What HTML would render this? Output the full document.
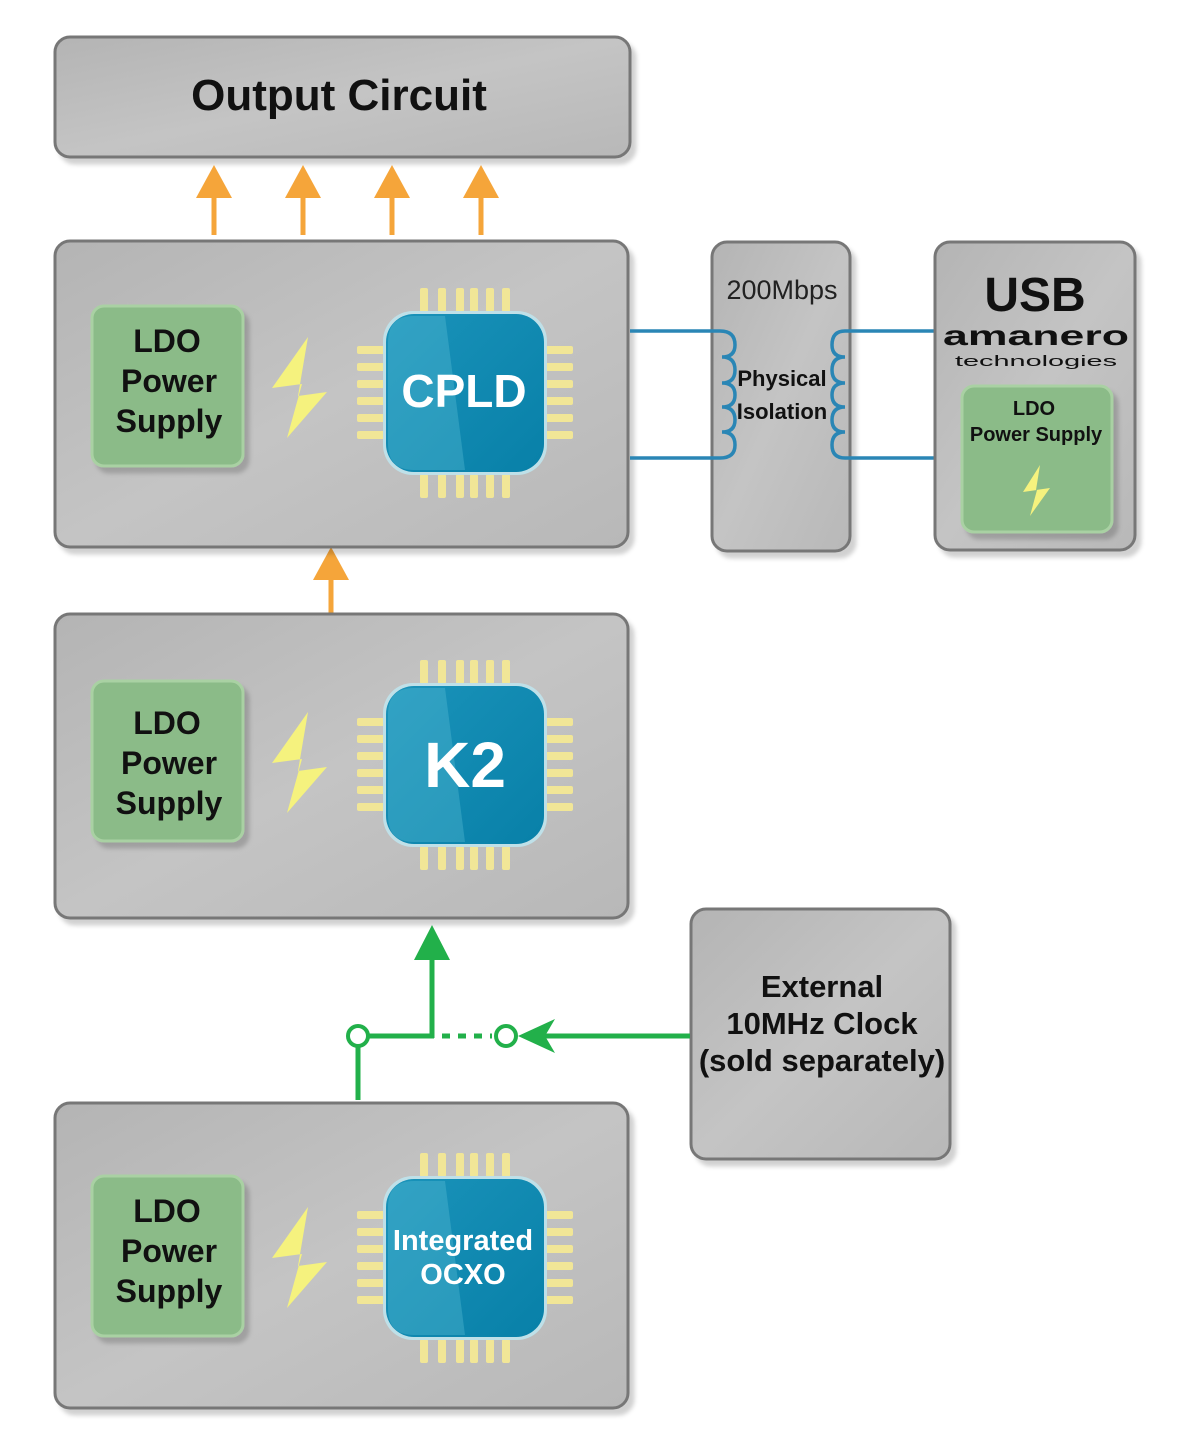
<!DOCTYPE html>
<html><head><meta charset="utf-8"><style>
html,body{margin:0;padding:0;background:#fff;width:1200px;height:1450px;overflow:hidden}
text{font-family:"Liberation Sans","DejaVu Sans",sans-serif}
</style></head><body>
<svg width="1200" height="1450" viewBox="0 0 1200 1450" xmlns="http://www.w3.org/2000/svg">
<defs>
<linearGradient id="gb" x1="0" y1="0" x2="1" y2="1">
<stop offset="0" stop-color="#b4b4b4"/><stop offset="0.5" stop-color="#c4c4c4"/><stop offset="1" stop-color="#b8b8b8"/></linearGradient>
<linearGradient id="chip" x1="0" y1="0" x2="1" y2="1">
<stop offset="0" stop-color="#1a93ba"/><stop offset="1" stop-color="#0880a8"/></linearGradient>
<filter id="sh" x="-5%" y="-5%" width="115%" height="115%"><feDropShadow dx="5" dy="6" stdDeviation="2" flood-color="#000" flood-opacity="0.18"/></filter>
<g id="pins" fill="#f1e697">
<rect x="420" y="288" width="8" height="24" rx="2"/><rect x="438" y="288" width="8" height="24" rx="2"/><rect x="456" y="288" width="8" height="24" rx="2"/><rect x="470" y="288" width="8" height="24" rx="2"/><rect x="486" y="288" width="8" height="24" rx="2"/><rect x="502" y="288" width="8" height="24" rx="2"/>
<rect x="420" y="474" width="8" height="24" rx="2"/><rect x="438" y="474" width="8" height="24" rx="2"/><rect x="456" y="474" width="8" height="24" rx="2"/><rect x="470" y="474" width="8" height="24" rx="2"/><rect x="486" y="474" width="8" height="24" rx="2"/><rect x="502" y="474" width="8" height="24" rx="2"/>
<rect x="357" y="346" width="28" height="8" rx="2"/><rect x="357" y="363" width="28" height="8" rx="2"/><rect x="357" y="380" width="28" height="8" rx="2"/><rect x="357" y="397" width="28" height="8" rx="2"/><rect x="357" y="414" width="28" height="8" rx="2"/><rect x="357" y="431" width="28" height="8" rx="2"/>
<rect x="545" y="346" width="28" height="8" rx="2"/><rect x="545" y="363" width="28" height="8" rx="2"/><rect x="545" y="380" width="28" height="8" rx="2"/><rect x="545" y="397" width="28" height="8" rx="2"/><rect x="545" y="414" width="28" height="8" rx="2"/><rect x="545" y="431" width="28" height="8" rx="2"/>
<rect x="383" y="311" width="164" height="164" rx="30" fill="#bfe0e8"/>
<rect x="386" y="314" width="158" height="158" rx="28" fill="url(#chip)"/>
<path d="M414,316 L445,316 L465,470 L414,470 Q388,470 388,444 L388,342 Q388,316 414,316Z" fill="#5fc0d8" opacity="0.35"/>
</g>
<g id="ldo">
<rect x="92" y="306" width="151" height="160" rx="12" fill="#8bbb88" stroke="#a9d1a3" stroke-width="3" filter="url(#sh)"/>
<polygon points="308,337 272,388 302,384 287,438 327,392 298,396" fill="#f5f27e"/>
</g>
</defs>

<rect x="55" y="37" width="575" height="120" rx="15" fill="url(#gb)" stroke="#777" stroke-width="3" filter="url(#sh)"/>
<text x="339" y="110" font-size="44" font-weight="bold" text-anchor="middle" fill="#111">Output Circuit</text>

<g stroke="#f5a53a" stroke-width="5" fill="#f5a53a">
<line x1="214" y1="235" x2="214" y2="190"/><polygon points="196,198 214,165 232,198" stroke="none"/>
<line x1="303" y1="235" x2="303" y2="190"/><polygon points="285,198 303,165 321,198" stroke="none"/>
<line x1="392" y1="235" x2="392" y2="190"/><polygon points="374,198 392,165 410,198" stroke="none"/>
<line x1="481" y1="235" x2="481" y2="190"/><polygon points="463,198 481,165 499,198" stroke="none"/>
<line x1="331" y1="613" x2="331" y2="570"/><polygon points="313,580 331,547 349,580" stroke="none"/>
</g>

<rect x="55" y="241" width="573" height="306" rx="15" fill="url(#gb)" stroke="#777" stroke-width="3" filter="url(#sh)"/>
<use href="#ldo"/>
<use href="#pins"/>
<text x="167" y="352" font-size="32" font-weight="bold" text-anchor="middle" fill="#111">LDO</text>
<text x="169" y="392" font-size="32" font-weight="bold" text-anchor="middle" fill="#111">Power</text>
<text x="169" y="432" font-size="32" font-weight="bold" text-anchor="middle" fill="#111">Supply</text>
<text x="464" y="407" font-size="46" font-weight="bold" text-anchor="middle" fill="#fff">CPLD</text>

<rect x="55" y="614" width="573" height="304" rx="15" fill="url(#gb)" stroke="#777" stroke-width="3" filter="url(#sh)"/>
<g transform="translate(0,375)"><use href="#ldo"/></g>
<g transform="translate(0,372)"><use href="#pins"/></g>
<text x="167" y="734" font-size="32" font-weight="bold" text-anchor="middle" fill="#111">LDO</text>
<text x="169" y="774" font-size="32" font-weight="bold" text-anchor="middle" fill="#111">Power</text>
<text x="169" y="814" font-size="32" font-weight="bold" text-anchor="middle" fill="#111">Supply</text>
<text x="465" y="787" font-size="64" font-weight="bold" text-anchor="middle" fill="#fff">K2</text>

<rect x="55" y="1103" width="573" height="305" rx="15" fill="url(#gb)" stroke="#777" stroke-width="3" filter="url(#sh)"/>
<g transform="translate(0,870)"><use href="#ldo"/></g>
<g transform="translate(0,865)"><use href="#pins"/></g>
<text x="167" y="1222" font-size="32" font-weight="bold" text-anchor="middle" fill="#111">LDO</text>
<text x="169" y="1262" font-size="32" font-weight="bold" text-anchor="middle" fill="#111">Power</text>
<text x="169" y="1302" font-size="32" font-weight="bold" text-anchor="middle" fill="#111">Supply</text>
<text x="463" y="1250" font-size="29" font-weight="bold" text-anchor="middle" fill="#fff">Integrated</text>
<text x="463" y="1284" font-size="29" font-weight="bold" text-anchor="middle" fill="#fff">OCXO</text>

<rect x="712" y="242" width="138" height="309" rx="15" fill="url(#gb)" stroke="#777" stroke-width="3" filter="url(#sh)"/>
<text x="782" y="299" font-size="27" text-anchor="middle" fill="#222">200Mbps</text>
<text x="782" y="386" font-size="22" font-weight="bold" text-anchor="middle" fill="#111">Physical</text>
<text x="782" y="419" font-size="22" font-weight="bold" text-anchor="middle" fill="#111">Isolation</text>
<g fill="none" stroke="#2a86b5" stroke-width="3.5">
<path d="M630,331 H720 Q735,331 735,345 Q735,357 722,357 Q735,357 735,370 Q735,383 722,383 Q735,383 735,395 Q735,407 722,407 Q735,407 735,420 Q735,432 722,432 Q735,432 735,445 Q735,458 720,458 H630"/>
<path d="M935,331 H845 Q832,331 832,345 Q832,357 845,357 Q832,357 832,370 Q832,383 845,383 Q832,383 832,395 Q832,407 845,407 Q832,407 832,420 Q832,432 845,432 Q832,432 832,445 Q832,458 845,458 H935"/>
</g>

<rect x="935" y="242" width="200" height="308" rx="15" fill="url(#gb)" stroke="#777" stroke-width="3" filter="url(#sh)"/>
<text x="1035" y="311" font-size="48" font-weight="bold" text-anchor="middle" fill="#111">USB</text>
<text x="1036" y="345" font-size="28" font-weight="bold" text-anchor="middle" fill="#111" textLength="186" lengthAdjust="spacingAndGlyphs">amanero</text>
<text x="1036" y="366" font-size="15" text-anchor="middle" fill="#111" textLength="162" lengthAdjust="spacingAndGlyphs">technologies</text>
<rect x="962" y="386" width="150" height="146" rx="12" fill="#8bbb88" stroke="#a9d1a3" stroke-width="3" filter="url(#sh)"/>
<text x="1034" y="415" font-size="20" font-weight="bold" text-anchor="middle" fill="#111">LDO</text>
<text x="1036" y="441" font-size="20" font-weight="bold" text-anchor="middle" fill="#111">Power Supply</text>
<polygon points="1040,465 1023,492 1037,490 1030,516 1050,488 1036,490" fill="#f5f27e"/>

<rect x="691" y="909" width="259" height="250" rx="15" fill="url(#gb)" stroke="#777" stroke-width="3" filter="url(#sh)"/>
<text x="822" y="997" font-size="31" font-weight="bold" text-anchor="middle" fill="#111">External</text>
<text x="822" y="1034" font-size="31" font-weight="bold" text-anchor="middle" fill="#111">10MHz Clock</text>
<text x="822" y="1071" font-size="31" font-weight="bold" text-anchor="middle" fill="#111">(sold separately)</text>

<g stroke="#22b04a" stroke-width="5" fill="none">
<line x1="432" y1="1038" x2="432" y2="945"/>
<line x1="368" y1="1036" x2="434" y2="1036"/>
<line x1="358" y1="1046" x2="358" y2="1100"/>
<line x1="442" y1="1036" x2="492" y2="1036" stroke-dasharray="8,8"/>
<line x1="690" y1="1036" x2="540" y2="1036"/>
<circle cx="358" cy="1036" r="10" fill="#fff" stroke-width="4"/>
<circle cx="506" cy="1036" r="10" fill="#fff" stroke-width="4"/>
</g>
<polygon points="432,925 414,960 450,960" fill="#22b04a"/>
<polygon points="518,1036 555,1019 545,1036 555,1053" fill="#22b04a"/>
</svg>
</body></html>
